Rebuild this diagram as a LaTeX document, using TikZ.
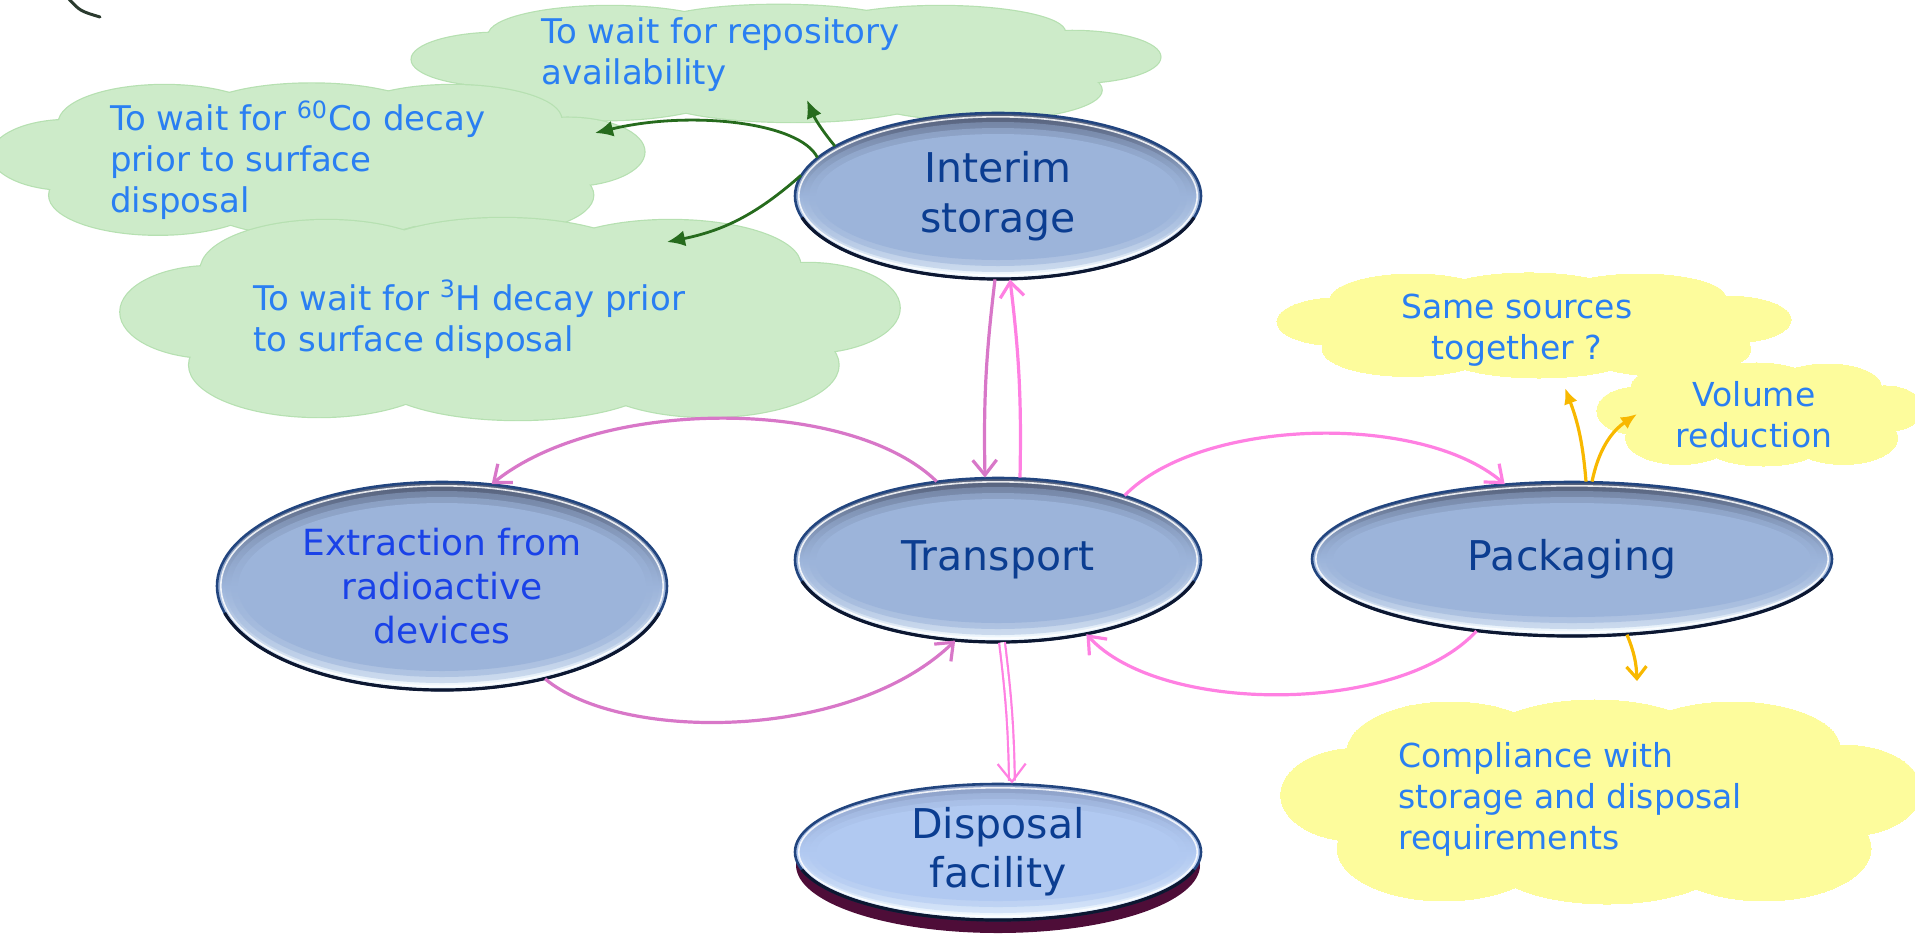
\documentclass[tikz,border=0pt]{standalone}
\usepackage{fontspec}
\setmainfont{DejaVu Sans}
\usetikzlibrary{shapes.geometric,arrows.meta}

\definecolor{cloudtext}{HTML}{2A7FF2}
\definecolor{ovaltext}{HTML}{0B3D91}
\definecolor{extrtext}{HTML}{1A42E8}
\definecolor{greenfill}{HTML}{CDEBC9}
\definecolor{greenedge}{HTML}{B6E0B1}
\definecolor{yellowfill}{HTML}{FDFC9C}
\definecolor{greenarrow}{HTML}{266B1D}
\definecolor{orangearrow}{HTML}{F8B800}
\definecolor{pinklight}{HTML}{FF80E2}
\definecolor{pinkdark}{HTML}{D877C8}
\definecolor{ovalbody}{HTML}{9CB4DA}
\definecolor{rimdark}{HTML}{55607A}
\definecolor{rimlight}{HTML}{F4FBFF}
\definecolor{ovaledge}{HTML}{22457F}
\definecolor{ovalshadow}{HTML}{0C1731}
\definecolor{diskbody}{HTML}{B1C9F1}
\definecolor{disktop}{HTML}{8C9FC6}
\definecolor{diskbase}{HTML}{4E0D38}
\definecolor{cornerline}{HTML}{2A3A2E}

% glossy oval: centre, x radius, y radius, body colour, top rim colour
\newcommand\glossyoval[5]{%
  \begin{scope}[shift={#1}]
    \shade[top color=#5, bottom color=rimlight, middle color=#4] (0,0) ellipse [x radius=#2, y radius=#3];
    \fill[#4, opacity=0.4] (0,-0.5pt) ellipse [x radius=#2-4pt, y radius=#3-4pt];
    \fill[#4, opacity=0.55] (0,-0.5pt) ellipse [x radius=#2-7pt, y radius=#3-7pt];
    \fill[#4] (0,-0.5pt) ellipse [x radius=#2-10.5pt, y radius=#3-10pt];
    \draw[white, opacity=0.85, line width=0.8pt] (0,0) ellipse [x radius=#2-1.9pt, y radius=#3-1.9pt];
    \draw[ovaledge, line width=1.3pt] (0,0) ellipse [x radius=#2, y radius=#3];
    \draw[ovalshadow, line width=1.6pt] (-15:#2 and #3) arc [start angle=-15, end angle=-165, x radius=#2, y radius=#3];
  \end{scope}}

% puffy cloud built from overlapping ellipses:
% centre, half width, half height, fill, edge colour, edge width
\newcommand\puffcloud[6]{%
  \begin{scope}[shift={#1}, x=#2, y=-#3]
    \foreach \px/\py/\rx/\ry in {-0.78/-0.08/0.24/0.46, -0.48/-0.5/0.33/0.5, -0.02/-0.6/0.36/0.42,
        0.42/-0.55/0.34/0.45, 0.78/-0.12/0.24/0.45, 0.52/0.45/0.34/0.52, 0.02/0.55/0.38/0.45,
        -0.5/0.45/0.34/0.52, 0/0/0.78/0.62}
      {\filldraw[fill=#4, draw=#5, line width=#6] (\px,\py) ellipse [x radius=\rx, y radius=\ry];}
    \foreach \px/\py/\rx/\ry in {-0.78/-0.08/0.24/0.46, -0.48/-0.5/0.33/0.5, -0.02/-0.6/0.36/0.42,
        0.42/-0.55/0.34/0.45, 0.78/-0.12/0.24/0.45, 0.52/0.45/0.34/0.52, 0.02/0.55/0.38/0.45,
        -0.5/0.45/0.34/0.52, 0/0/0.78/0.62}
      {\fill[#4] (\px,\py) ellipse [x radius=\rx, y radius=\ry];}
  \end{scope}}

\tikzset{
  ovalnode/.style={ellipse, inner sep=0pt, align=center, text=ovaltext,
    font=\fontsize{20.5}{25}\selectfont},
  greentext/.style={text=cloudtext, align=left, inner sep=0pt, font=\fontsize{17}{20.5}\selectfont},
  yellowtext/.style={text=cloudtext, inner sep=0pt, font=\fontsize{16.5}{20.5}\selectfont},
  pinklink/.style={line width=1.6pt, -{Straight Barb[length=7.5pt,width=12pt]}},
  greenlink/.style={draw=greenarrow, line width=1.4pt, -{Latex[length=9pt,width=8pt]}},
  orangelink/.style={draw=orangearrow, line width=1.6pt, -{Latex[length=8pt,width=7pt]}},
  orangebarb/.style={draw=orangearrow, line width=1.6pt, -{Straight Barb[length=6pt,width=10pt]}},
}

\begin{document}
\begin{tikzpicture}[x=0.5pt, y=-0.5pt]
\useasboundingbox (0,0) rectangle (1915,938);

% corner stroke
\draw[cornerline, line width=1.5pt, line cap=round] (68,-2) .. controls (80,11) .. (100,17);

% green clouds
\puffcloud{(786,64)}{183.5pt}{29pt}{greenfill}{greenedge}{1.2pt}
\coordinate (cA) at (786,64);
\puffcloud{(318,161)}{160pt}{38pt}{greenfill}{greenedge}{1.2pt}
\coordinate (cB) at (318,161);
\puffcloud{(510,320)}{191pt}{50pt}{greenfill}{greenedge}{1.2pt}
\coordinate (cC) at (510,320);

% yellow clouds
\puffcloud{(1534,326)}{126pt}{26pt}{yellowfill}{yellowfill}{0pt}
\coordinate (cY1) at (1534,326);
\puffcloud{(1760,415)}{80pt}{25.5pt}{yellowfill}{yellowfill}{0pt}
\coordinate (cY2) at (1760,415);
\puffcloud{(1601,803)}{157pt}{50.5pt}{yellowfill}{yellowfill}{0pt}
\coordinate (cY3) at (1601,803);

% cloud texts
\node[greentext, anchor=west] (tA) at (541,55) {To wait for repository\\availability};
\node[greentext, anchor=west] (tB) at (110,160) {To wait for \textsuperscript{60}Co decay\\prior to surface\\disposal};
\node[greentext, anchor=west] (tC) at (253,319) {To wait for \textsuperscript{3}H decay prior\\to surface disposal};
\node[yellowtext, align=center] (tY1) at (1517,330) {Same sources\\together ?};
\node[yellowtext, align=center] (tY2) at (1754,415) {Volume\\reduction};
\node[yellowtext, align=left, anchor=west] (tY3) at (1398,799) {Compliance with\\storage and disposal\\requirements};

% glossy ovals
\glossyoval{(998,196)}{101.5pt}{41.5pt}{ovalbody}{rimdark}
\node[ovalnode, minimum width=203pt, minimum height=83pt] (interim) at (998,196) {Interim\\storage};

\glossyoval{(998,560)}{101.5pt}{41pt}{ovalbody}{rimdark}
\node[ovalnode, minimum width=203pt, minimum height=82pt] (transport) at (998,560) {Transport};

\glossyoval{(442,586)}{112.5pt}{52pt}{ovalbody}{rimdark}
\node[ovalnode, minimum width=225pt, minimum height=104pt, text=extrtext,
  font=\fontsize{18}{22}\selectfont] (extraction) at (442,586) {Extraction from\\radioactive\\devices};

\glossyoval{(1572,559)}{130pt}{38.5pt}{ovalbody}{rimdark}
\node[ovalnode, minimum width=260pt, minimum height=77pt] (packaging) at (1572,559) {Packaging};

\fill[diskbase] (998,865) ellipse [x radius=101pt, y radius=34pt];
\glossyoval{(998,852)}{101.5pt}{34pt}{diskbody}{disktop}
\node[ovalnode, minimum width=203pt, minimum height=68pt, font=\fontsize{20.5}{24.5}\selectfont] (disposal) at (998,852) {Disposal\\facility};

% arrow ends inside the clouds
\coordinate (eA) at (807,100);
\coordinate (eB) at (595,133);
\coordinate (eC) at (667,242);
\coordinate (eY1) at (1565,388);
\coordinate (eY2) at (1637,414);
\coordinate (eY3) at (1637,681);

% green links from interim storage
\draw[greenlink] (interim.163) to[bend left=8] (eA);
\draw[greenlink] (interim.168) .. controls (800,122) and (690,110) .. (eB);
\draw[greenlink] (interim.174) to[bend left=15] (eC);

% pink flows
\draw[pinklink, draw=pinkdark] ([xshift=-1.5pt]interim.south) to[bend right=4] ([xshift=-6.5pt]transport.north);
\draw[pinklink, draw=pinklight] ([xshift=11pt]transport.north) to[bend right=4] ([xshift=6pt]interim.south);
\draw[pinklink, draw=pinkdark] (transport.128) .. controls (850,397) and (600,397) .. (extraction.64);
\draw[pinklink, draw=pinkdark] (extraction.-42) .. controls (620,742) and (850,742) .. (transport.-118);
\draw[pinklink, draw=pinklight] (transport.27) .. controls (1200,418) and (1420,412) .. (packaging.132);
\draw[pinklink, draw=pinklight] (packaging.-143) .. controls (1400,715) and (1160,715) .. (transport.-40);
\draw[draw=pinklight, line width=1.1pt, double=white, double distance=1.8pt,
  -{Straight Barb[length=9pt,width=14pt]}]
  ([xshift=2pt]transport.south) to[bend left=3] ([xshift=7pt]disposal.north);

% orange links from packaging
\draw[orangelink] ([xshift=7pt]packaging.north) to[bend right=8] (eY1);
\draw[orangelink] ([xshift=10pt]packaging.north) to[bend left=22] (eY2);
\draw[orangebarb] (packaging.-54) to[bend left=10] (eY3);

\end{tikzpicture}
\end{document}
